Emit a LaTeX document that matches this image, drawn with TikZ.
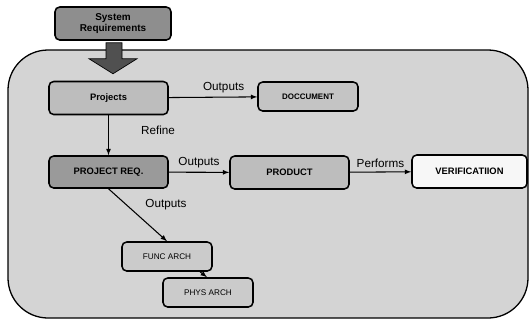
\documentclass[tikz,border=0pt]{standalone}
\usepackage{fontspec}
\setmainfont{Liberation Sans}
\usetikzlibrary{arrows,calc}
\definecolor{panelgray}{HTML}{D4D4D4}
\definecolor{reqgray}{HTML}{8E8E8E}
\definecolor{projgray}{HTML}{BDBDBD}
\definecolor{preqgray}{HTML}{9A9A9A}
\definecolor{docgray}{HTML}{C4C4C4}
\definecolor{archgray}{HTML}{CBCBCB}
\definecolor{verifwhite}{HTML}{F7F7F7}
\definecolor{fatgray}{HTML}{505050}
\tikzstyle{block}=[draw, line width=1.3pt, rounded corners=4pt, inner sep=0pt]
\tikzstyle{bigblock}=[block, minimum width=3.57cm, minimum height=0.99cm, font=\bfseries\fontsize{8}{9}\selectfont]
\tikzstyle{smallblock}=[block, minimum width=2.7cm, minimum height=0.87cm, font=\fontsize{7}{8}\selectfont]
\tikzstyle{conn}=[-latex, line width=0.9pt]
\tikzstyle{lbl}=[font=\fontsize{10}{12}\selectfont]

\begin{document}
\begin{tikzpicture}[x=0.03cm,y=-0.03cm]
	\useasboundingbox (0,0) rectangle (530,323);
	% outer panel
	\draw[line width=1.1pt, rounded corners=1.2cm, fill=panelgray] (8,50) rectangle (528,318);
	\node[block, fill=reqgray, minimum width=3.48cm, minimum height=0.99cm, align=center, font=\bfseries\fontsize{8.5}{9.5}\selectfont] (sysreq) at (113,23.5) {System\\Requirements};
	% fat arrow into the panel
	\filldraw[fill=fatgray, draw=black, line width=0.6pt] ($(sysreq.south)+(-7,2)$) -- ($(sysreq.south)+(9,2)$) -- ($(sysreq.south)+(9,18)$) -- ($(sysreq.south)+(24,18)$) -- ($(sysreq.south)+(0,33)$) -- ($(sysreq.south)+(-24,18)$) -- ($(sysreq.south)+(-7,18)$) -- cycle;

	\node[bigblock, fill=projgray] (projects) at (108.5,98) {Projects};
	\node[smallblock, fill=docgray, minimum width=3cm, font=\bfseries\fontsize{6.8}{8}\selectfont] (doc) at (308,96.5) {DOCCUMENT};
	\node[bigblock, fill=preqgray, minimum height=0.96cm] (projreq) at (108.5,172) {PROJECT REQ.};
	\node[bigblock, fill=projgray] (product) at (289.5,172.5) {PRODUCT};
	\node[bigblock, fill=verifwhite, minimum width=3.45cm] (verif) at (469.5,171.5) {VERIFICATIION};
	\node[smallblock, fill=archgray] (func) at (167,256.5) {FUNC ARCH};
	\node[smallblock, fill=archgray] (phys) at (208,292.5) {PHYS ARCH};

	\draw[conn] (projects) -- node[lbl, above, pos=.62] {Outputs} (doc);
	\draw[conn] (projects) -- (projreq);
	\node[lbl] (refine) at (158,130) {Refine};
	\draw[conn] (projreq) -- node[lbl, above] {Outputs} (product);
	\draw[conn] (product) -- node[lbl, above] {Performs} (verif);
	\draw[conn] (projreq.south) -- node[lbl, pos=.3, right=0.45cm] {Outputs} (func.north);
	\draw[conn] ($(func.south)+(33,0)$) -- ($(phys.north)+(-1,0)$);
\end{tikzpicture}
\end{document}
